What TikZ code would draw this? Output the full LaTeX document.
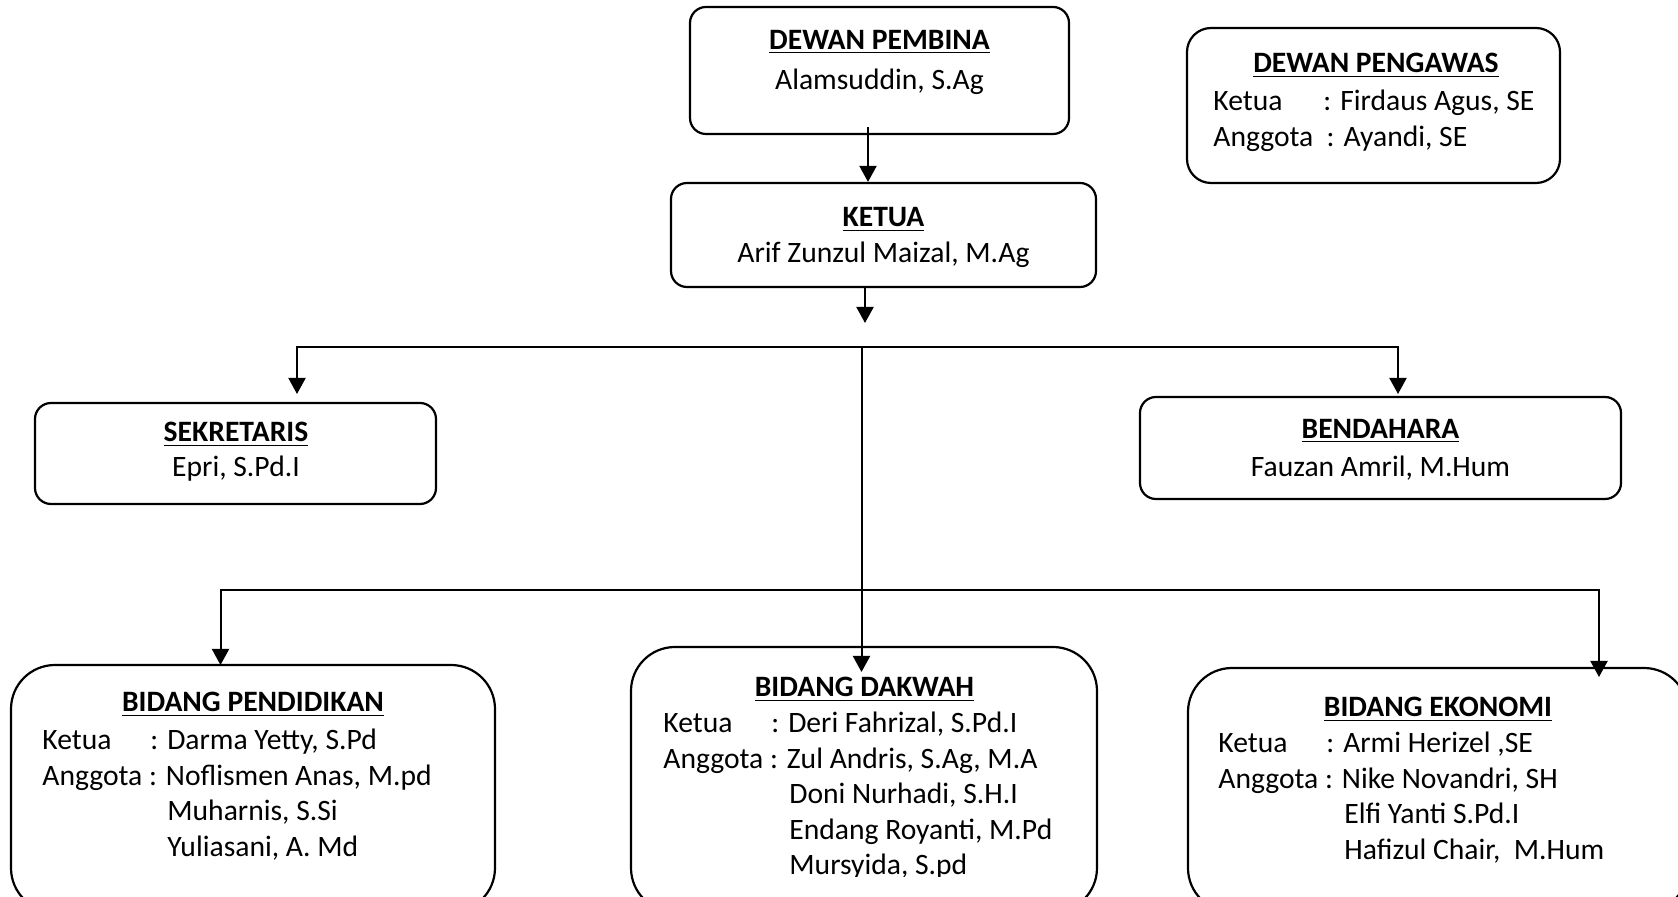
\documentclass[tikz,border=0pt]{standalone}
\usepackage{fontspec}
\setmainfont{Carlito}
\usetikzlibrary{arrows.meta}
\def\jab[#1]#2{\makebox[#1][l]{#2}}
\tikzset{
	kotak/.style={draw, line width=1.1pt, rounded corners=8pt, inner sep=0pt},
	bidang/.style={kotak, rounded corners=22pt},
	teks/.style={inner sep=0pt, font=\fontsize{14.8}{17.75}\selectfont},
	judul/.style={inner sep=0pt, font=\fontsize{14.8}{17.75}\selectfont\bfseries},
	garis/.style={line width=1pt},
	panah/.style={line width=1pt, -{Triangle[width=8.5pt,length=8pt]}}
}

\begin{document}
\begin{tikzpicture}[x=0.5pt,y=-0.5pt]
			%%%%% START %%%%%
			\clip (0,0) rectangle (1678,897);
			
			% kotak
			\node[kotak, minimum width=189.5pt, minimum height=63.5pt] (pembina) at (879.5,70.5) {};
			\node[kotak, minimum width=212.5pt, minimum height=52pt] (ketua) at (883.5,235) {};
			\node[kotak, rounded corners=12pt, minimum width=186.5pt, minimum height=77.5pt] (pengawas) at (1373.5,105.5) {};
			\node[kotak, minimum width=200.5pt, minimum height=50.5pt] (sekretaris) at (235.5,453.5) {};
			\node[kotak, minimum width=240.5pt, minimum height=51pt] (bendahara) at (1380.5,448) {};
			\node[bidang, minimum width=242pt, minimum height=123.5pt] (pendidikan) at (253,788.5) {};
			\node[bidang, minimum width=233pt, minimum height=132.5pt] (dakwah) at (864,779.5) {};
			\node[bidang, minimum width=250pt, minimum height=122pt] (ekonomi) at (1438,790) {};
			
			% teks
			\node[judul, anchor=base] (jpembina) at (879.5,50) {\underline{DEWAN PEMBINA}};
			\node[teks, anchor=base] (npembina) at (879.5,90) {Alamsuddin, S.Ag};
			
			\node[judul, anchor=base] (jketua) at (883.5,227) {\underline{KETUA}};
			\node[teks, anchor=base] (nketua) at (883.5,263) {Arif Zunzul Maizal, M.Ag};
			
			\node[judul, anchor=base] (jpengawas) at (1376,73) {\underline{DEWAN PENGAWAS}};
			\node[teks, anchor=base west] (lpengawas) at (1213,111) {\begin{tabular}[t]{@{}l@{}}
				\jab[55pt]{Ketua}: Firdaus Agus, SE\\
				Anggota\ \ : Ayandi, SE
			\end{tabular}};
			
			\node[judul, anchor=base] (jsekretaris) at (236,442) {\underline{SEKRETARIS}};
			\node[teks, anchor=base] (nsekretaris) at (236,477) {Epri, S.Pd.I};
			
			\node[judul, anchor=base] (jbendahara) at (1380.5,439) {\underline{BENDAHARA}};
			\node[teks, anchor=base] (nbendahara) at (1380.5,477) {Fauzan Amril, M.Hum};
			
			\node[judul, anchor=base] (jpendidikan) at (253,712) {\underline{BIDANG PENDIDIKAN}};
			\node[teks, anchor=base west] (lpendidikan) at (42,750) {\begin{tabular}[t]{@{}l@{}}
				\jab[54pt]{Ketua}: Darma Yetty, S.Pd\\
				Anggota : Noflismen Anas, M.pd\\
				\hspace*{62.5pt}Muharnis, S.Si\\
				\hspace*{62.5pt}Yuliasani, A. Md
			\end{tabular}};
			
			\node[judul, anchor=base] (jdakwah) at (864.5,697) {\underline{BIDANG DAKWAH}};
			\begin{scope}
				\clip (600,600) rectangle (1100,877);
				\node[teks, anchor=base west] (ldakwah) at (663,733) {\begin{tabular}[t]{@{}l@{}}
					\jab[54pt]{Ketua}: Deri Fahrizal, S.Pd.I\\
					Anggota : Zul Andris, S.Ag, M.A\\
					\hspace*{63pt}Doni Nurhadi, S.H.I\\
					\hspace*{63pt}Endang Royanti, M.Pd\\
					\hspace*{63pt}Mursyida, S.pd
				\end{tabular}};
			\end{scope}
			
			\node[judul, anchor=base] (jekonomi) at (1438,717) {\underline{BIDANG EKONOMI}};
			\node[teks, anchor=base west] (lekonomi) at (1218,753) {\begin{tabular}[t]{@{}l@{}}
				\jab[54pt]{Ketua}: Armi Herizel ,SE\\
				Anggota : Nike Novandri, SH\\
				\hspace*{63pt}Elfi Yanti S.Pd.I\\
				\hspace*{63pt}Hafizul Chair,~ M.Hum
			\end{tabular}};
			
			% garis
			\coordinate (a1) at (868,127);
			\coordinate (a2) at (865,323);
			\coordinate (c1) at (861.5,347);
			\coordinate (c2) at (861.5,590);
			\coordinate (s1) at (297,394);
			\coordinate (b1) at (1398,394);
			\coordinate (d1) at (861.5,672);
			\coordinate (p1) at (220.5,665);
			\coordinate (e1) at (1599,677);
			
			\draw[panah] (a1) -- (a1 |- ketua.north);
			\draw[panah] (a2 |- ketua.south) -- (a2);
			\draw[panah] (c1) -| (s1);
			\draw[panah] (c1) -| (b1);
			\draw[panah] (c1) -- (d1);
			\draw[panah] (c2) -| (p1);
			\draw[panah] (c2) -| (e1);
			
			%%%%% END %%%%%
\end{tikzpicture}
\end{document}
